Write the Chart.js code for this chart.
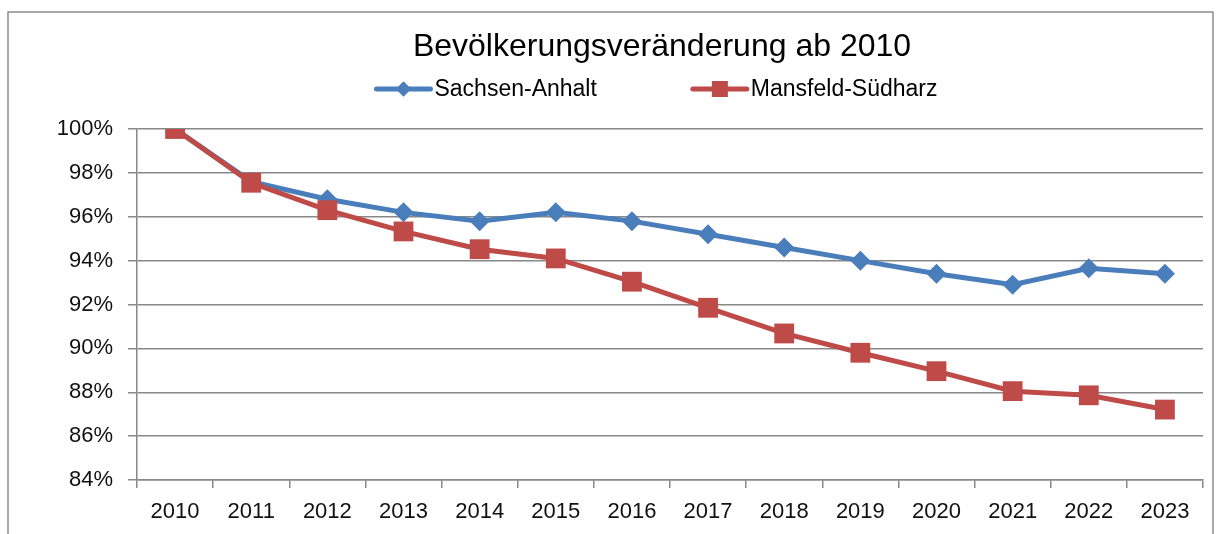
<!DOCTYPE html>
<html>
<head>
<meta charset="utf-8">
<script src="https://cdn.jsdelivr.net/npm/chart.js@4/dist/chart.umd.min.js"></script>
<style>
    html, body { margin: 0; padding: 0; background: #fff; }
    #wrap { position: relative; width: 1219px; height: 534px; }
</style>
</head>
<body>
<div id="wrap"><canvas id="popChart" width="1219" height="534"></canvas></div>
<script>
// Data
const years = ['2010', '2011', '2012', '2013', '2014', '2015', '2016', '2017', '2018', '2019', '2020', '2021', '2022', '2023'];
const sachsenAnhalt = [100, 97.6, 96.8, 96.2, 95.8, 96.2, 95.8, 95.2, 94.6, 94.0, 93.4, 92.9, 93.65, 93.4];
const mansfeldSuedharz = [100, 97.55, 96.3, 95.33, 94.52, 94.1, 93.04, 91.85, 90.68, 89.8, 88.96, 88.05, 87.86, 87.21];
const yTicks = [84, 86, 88, 90, 92, 94, 96, 98, 100];

const chartTitle = 'Bevölkerungsveränderung ab 2010';
const FONT = '"Liberation Sans", Arial, sans-serif';

const colors = {
    blue: '#4a7ebb',
    red: '#be4b48',
    grid: '#888888',
    text: '#111111'
};

// Title, legend (line + marker) and outer frame, drawn like the office chart
const decorPlugin = {
    id: 'decor',
    afterDraw(chart) {
        const ctx = chart.ctx;
        ctx.save();

        // outer frame
        ctx.strokeStyle = '#8c8c8c';
        ctx.lineWidth = 1.5;
        ctx.strokeRect(8, 12, 1205, 540);

        // title
        ctx.fillStyle = '#000';
        ctx.font = '32px ' + FONT;
        ctx.textAlign = 'center';
        ctx.textBaseline = 'middle';
        ctx.fillText(chartTitle, 662, 47);

        // legend
        const items = chart.data.datasets.map(ds => ({
            text: ds.label, color: ds.borderColor, style: ds.pointStyle
        }));
        ctx.font = '23px ' + FONT;
        ctx.textAlign = 'left';
        const lineLen = 54, gap = 4, spacing = 96;
        const widths = items.map(it => lineLen + gap + ctx.measureText(it.text).width);
        const total = widths.reduce((a, b) => a + b, 0) + spacing * (items.length - 1);
        let x = 657 - total / 2;
        const y = 89;
        items.forEach((it, i) => {
            ctx.strokeStyle = it.color;
            ctx.lineWidth = 5;
            ctx.lineCap = 'round';
            ctx.beginPath();
            ctx.moveTo(x, y);
            ctx.lineTo(x + lineLen, y);
            ctx.stroke();
            ctx.fillStyle = it.color;
            const cx = x + lineLen / 2;
            if (it.style === 'rectRot') {
                Chart.helpers.drawPoint(ctx, { pointStyle: 'rectRot', radius: 7.5, borderWidth: 0 }, cx, y);
                ctx.fill();
            } else {
                ctx.fillRect(cx - 8, y - 8, 16, 16);
            }
            ctx.fillStyle = '#000';
            ctx.fillText(it.text, x + lineLen + gap, y + 1);
            x += widths[i] + spacing;
        });
        ctx.restore();
    }
};

const ctx = document.getElementById('popChart').getContext('2d');
new Chart(ctx, {
    type: 'line',
    data: {
        labels: years,
        datasets: [
            {
                label: 'Sachsen-Anhalt',
                data: sachsenAnhalt,
                borderColor: colors.blue,
                backgroundColor: colors.blue,
                borderWidth: 5,
                pointStyle: 'rectRot',
                pointRadius: 10,
                pointBorderWidth: 0,
                tension: 0,
                order: 1
            },
            {
                label: 'Mansfeld-Südharz',
                data: mansfeldSuedharz,
                borderColor: colors.red,
                backgroundColor: colors.red,
                borderWidth: 5,
                pointStyle: 'rect',
                pointRadius: 14,
                pointBorderWidth: 0,
                tension: 0,
                order: 0
            }
        ]
    },
    options: {
        responsive: false,
        animation: false,
        layout: {
            padding: { top: 129, left: 10, right: 16, bottom: 9 }
        },
        plugins: {
            legend: { display: false },
            title: { display: false },
            tooltip: { enabled: false }
        },
        scales: {
            x: {
                offset: true,
                afterFit(scale) {
                    scale.height = 45;
                },
                grid: {
                    offset: true,
                    drawOnChartArea: false,
                    drawTicks: true,
                    tickLength: 8,
                    color: colors.grid,
                    lineWidth: 1.5
                },
                border: { color: colors.grid, width: 1.5 },
                ticks: {
                    color: colors.text,
                    font: { family: FONT, size: 22 },
                    padding: 11,
                    maxRotation: 0,
                    autoSkip: false
                }
            },
            y: {
                min: 84,
                max: 100,
                afterBuildTicks(scale) {
                    scale.ticks = yTicks.map(v => ({ value: v }));
                },
                afterFit(scale) {
                    scale.width = 127;
                },
                grid: {
                    color: colors.grid,
                    lineWidth: 1.5,
                    tickLength: 9
                },
                border: { color: colors.grid, width: 1.5 },
                ticks: {
                    color: colors.text,
                    font: { family: FONT, size: 22 },
                    padding: 15,
                    callback: function(value) {
                        return value + '%';
                    }
                }
            }
        }
    },
    plugins: [decorPlugin]
});
</script>
</body>
</html>
